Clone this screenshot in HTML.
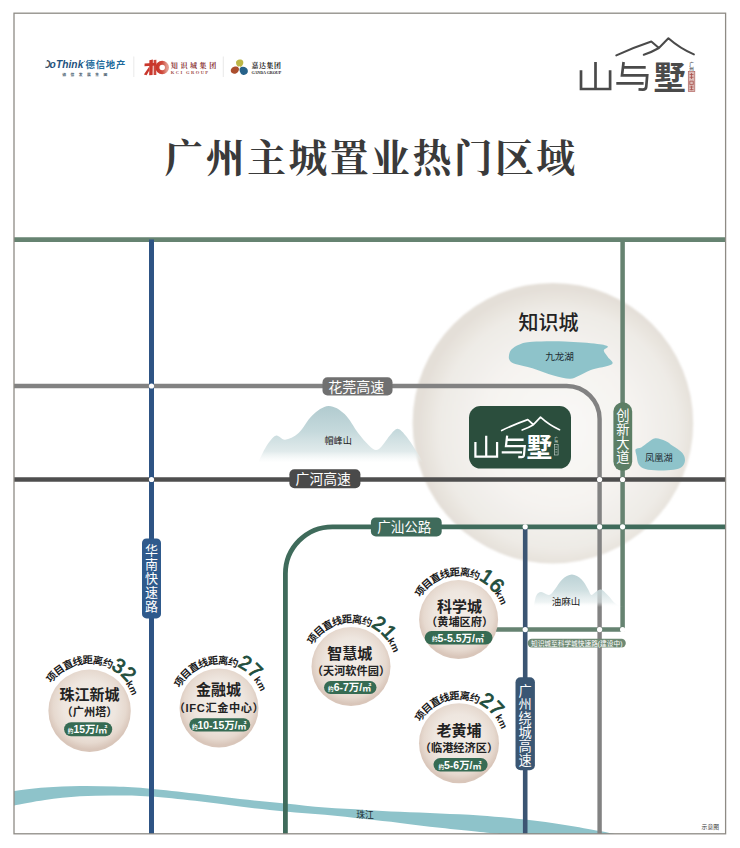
<!DOCTYPE html>
<html><head><meta charset="utf-8"><title>map</title>
<style>html,body{margin:0;padding:0;background:#fff;font-family:"Liberation Sans",sans-serif}svg{display:block}
svg text{font-family:"Liberation Sans","Noto Sans CJK SC",sans-serif}
svg text.sf{font-family:"Liberation Serif","Noto Serif CJK SC",serif}</style>
</head><body>
<svg width="740" height="848" viewBox="0 0 740 848">
<defs>
<radialGradient id="gbig" cx="52%" cy="52%" r="50%"><stop offset="0" stop-color="#faf9f7"/><stop offset="0.55" stop-color="#f5f3f0"/><stop offset="0.85" stop-color="#eeebe6"/><stop offset="1" stop-color="#e4dfd8"/></radialGradient>
<radialGradient id="ginfo" cx="50%" cy="45%" r="52%"><stop offset="0" stop-color="#f3ede7"/><stop offset="0.6" stop-color="#eee6df"/><stop offset="0.85" stop-color="#e6d9cf"/><stop offset="1" stop-color="#d9c6ba"/></radialGradient>
<linearGradient id="gm1" x1="0" y1="0" x2="0" y2="1"><stop offset="0" stop-color="#b1cbcf"/><stop offset="0.45" stop-color="#c5d9dc"/><stop offset="0.8" stop-color="#dde8e9" stop-opacity="0.9"/><stop offset="1" stop-color="#f0f5f5" stop-opacity="0"/></linearGradient>
<linearGradient id="gm2" x1="0" y1="0" x2="0" y2="1"><stop offset="0" stop-color="#b7cfd3" stop-opacity="0.95"/><stop offset="0.5" stop-color="#c9dbdd" stop-opacity="0.85"/><stop offset="0.85" stop-color="#e3eced" stop-opacity="0.6"/><stop offset="1" stop-color="#fff" stop-opacity="0"/></linearGradient>
<linearGradient id="gkci" x1="0" y1="0" x2="1" y2="0"><stop offset="0" stop-color="#c9372c"/><stop offset="0.5" stop-color="#cf4a3c"/><stop offset="1" stop-color="#e29a8e"/></linearGradient>
<filter id="b1" x="-10%" y="-10%" width="120%" height="120%"><feGaussianBlur stdDeviation="0.7"/></filter>
<filter id="b2" x="-10%" y="-10%" width="120%" height="120%"><feGaussianBlur stdDeviation="1.2"/></filter>
</defs>
<rect width="740" height="848" fill="#fff"/>
<path d="M14 791C19.17 790.42 34 788.33 45 787.5C56 786.67 68.33 786.15 80 786C91.67 785.85 103.33 786.15 115 786.6C126.67 787.05 136.67 787.55 150 788.7C163.33 789.85 180 791.78 195 793.5C210 795.22 225 797.35 240 799C255 800.65 270.83 801.97 285 803.4C299.17 804.83 311.67 806.52 325 807.6C338.33 808.68 352.5 809.2 365 809.9C377.5 810.6 387.5 811.22 400 811.8C412.5 812.38 426.67 812.8 440 813.4C453.33 814 465.83 814.37 480 815.4C494.17 816.43 510.83 818 525 819.6C539.17 821.2 552.57 823.1 565 825C577.43 826.9 591.27 829.5 599.6 831C607.93 832.5 612.43 833.5 615 834L500 834C496.67 833.67 490 833.03 480 832C470 830.97 453.33 829.32 440 827.8C426.67 826.28 412.5 824.37 400 822.9C387.5 821.43 377.5 820.35 365 819C352.5 817.65 338.33 816.07 325 814.8C311.67 813.53 299.17 812.77 285 811.4C270.83 810.03 255 808.37 240 806.6C225 804.83 210 802.48 195 800.8C180 799.12 163.33 797.38 150 796.5C136.67 795.62 126.67 795.53 115 795.5C103.33 795.47 91.67 795.55 80 796.3C68.33 797.05 56 798.47 45 800C34 801.53 19.17 804.58 14 805.5Z" fill="#8ec3ca"/>
<circle cx="552.9" cy="423.2" r="140.3" fill="url(#gbig)" filter="url(#b2)"/>
<path d="M14 239.6L725.5 239.6" stroke="#668371" stroke-width="4.6" fill="none"/>
<path d="M622.6 239.6V629.6H495" stroke="#668371" stroke-width="4.5" fill="none" stroke-linejoin="round"/>
<path d="M14 386H566.6A33 33 0 0 1 599.6 419V834" stroke="#828282" stroke-width="4.4" fill="none"/>
<path d="M14 479.5L725.5 479.5" stroke="#4e4e4e" stroke-width="4.6" fill="none"/>
<path d="M725.5 526.8H332.4A47 47 0 0 0 285.4 573.8V834" stroke="#3f6b5b" stroke-width="4.8" fill="none"/>
<path d="M525.2 526.8L525.2 834" stroke="#3b5573" stroke-width="4.6" fill="none"/>
<path d="M151.5 239.6L151.5 834" stroke="#2e5484" stroke-width="5" fill="none"/>
<circle cx="151.5" cy="386" r="2.6" fill="#fff"/>
<circle cx="151.5" cy="479.5" r="2.6" fill="#fff"/>
<circle cx="599.6" cy="479.5" r="2.6" fill="#fff"/>
<circle cx="622.6" cy="479.5" r="2.6" fill="#fff"/>
<circle cx="525.2" cy="526.8" r="2.6" fill="#fff"/>
<circle cx="599.6" cy="526.8" r="2.6" fill="#fff"/>
<circle cx="622.6" cy="526.8" r="2.6" fill="#fff"/>
<circle cx="525.2" cy="629.6" r="2.6" fill="#fff"/>
<circle cx="599.6" cy="629.6" r="2.6" fill="#fff"/>
<circle cx="622.6" cy="629.6" r="2.6" fill="#fff"/>
<path d="M508.9 356.1C509.12 354.22 509.63 351.55 511.4 349.6C513.17 347.65 516 345.7 519.5 344.4C523 343.1 524.83 342.28 532.4 341.8C539.97 341.32 554.08 341.15 564.9 341.5C575.72 341.85 590.15 343.08 597.3 343.9C604.45 344.72 606.72 345.32 607.8 346.4C608.88 347.48 603.8 348.65 603.8 350.4C603.8 352.15 606.45 354.6 607.8 356.9C609.15 359.2 614.73 362.03 611.9 364.2C609.07 366.37 596.48 367.88 590.8 369.9C585.12 371.92 581.32 374.82 577.8 376.3C574.28 377.78 573.75 378.93 569.7 378.8C565.65 378.67 559.72 377.27 553.5 375.5C547.28 373.73 538.62 370.08 532.4 368.2C526.18 366.32 519.92 365.42 516.2 364.2C512.48 362.98 511.32 362.25 510.1 360.9C508.88 359.55 508.68 357.98 508.9 356.1Z" fill="#8ec3ca"/>
<path d="M635.6 449.3C636.35 447.82 639.08 448.58 641.2 447.4C643.32 446.22 645.93 443.72 648.3 442.2C650.67 440.68 652.53 438.52 655.4 438.3C658.27 438.08 662.63 439.67 665.5 440.9C668.37 442.13 669.82 443.72 672.6 445.7C675.38 447.68 680.13 450.35 682.2 452.8C684.27 455.25 685.08 458.03 685 460.4C684.92 462.77 683.6 465.45 681.7 467C679.8 468.55 677.48 469.12 673.6 469.7C669.72 470.28 663.12 470.62 658.4 470.5C653.68 470.38 648.58 470.02 645.3 469C642.02 467.98 640.13 466.52 638.7 464.4C637.27 462.28 637.22 458.82 636.7 456.3C636.18 453.78 634.85 450.78 635.6 449.3Z" fill="#8ec3ca"/>
<text x="545.2" y="360.45" font-size="9.6" fill="#1c2b33">九龙湖</text>
<text x="645.1" y="461.1" font-size="9.2" fill="#1c2b33">凤凰湖</text>
<path d="M258.1 462.7C259.45 460 263.27 451 266.2 446.5C269.13 442 272.55 436.83 275.7 435.7C278.85 434.57 281.28 440.15 285.1 439.7C288.92 439.25 294.08 437.05 298.6 433C303.12 428.95 307.23 419.9 312.2 415.4C317.17 410.9 323 406.23 328.4 406C333.8 405.77 339.65 409.5 344.6 414C349.55 418.5 354.03 427.75 358.1 433C362.17 438.25 366.02 442.67 369 445.5C371.98 448.33 373.83 449.92 376 450C378.17 450.08 379.58 448.53 382 446C384.42 443.47 387.82 437.65 390.5 434.8C393.18 431.95 395.38 428.53 398.1 428.9C400.82 429.27 403.55 432.95 406.8 437C410.05 441.05 414.9 448.92 417.6 453.2C420.3 457.48 422.1 461.12 423 462.7Z" fill="url(#gm1)"/>
<text x="324.4" y="444" font-size="9.2" fill="#222">帽峰山</text>
<path d="M533.8 607C534.2 605.12 534.98 598.18 536.2 595.7C537.42 593.22 538.93 592.23 541.1 592.1C543.27 591.97 546.9 595.38 549.2 594.9C551.5 594.42 552.73 591.77 554.9 589.2C557.07 586.63 559.37 581.93 562.2 579.5C565.03 577.07 568.67 574.6 571.9 574.6C575.13 574.6 578.9 577.07 581.6 579.5C584.3 581.93 586.48 586.63 588.1 589.2C589.72 591.77 589.95 594.5 591.3 594.9C592.65 595.3 594.57 592.5 596.2 591.6C597.83 590.7 599.2 588.95 601.1 589.5C603 590.05 605.17 592.52 607.6 594.9C610.03 597.28 613 601.78 615.7 603.8C618.4 605.82 622.45 606.47 623.8 607Z" fill="url(#gm2)"/>
<text x="551.65" y="604.91" font-size="9.5" fill="#1d1d1d">油麻山</text>
<rect x="322.5" y="377.2" width="70" height="18.2" rx="5" fill="#707070"/>
<text x="328.3" y="391.62" font-size="14" fill="#fff">花莞高速</text>
<rect x="289.4" y="469.2" width="71" height="19" rx="5" fill="#4a4a4a"/>
<text x="295.6" y="483.94" font-size="13.8" fill="#fff">广河高速</text>
<rect x="370.9" y="517.4" width="70.8" height="19" rx="5" fill="#3f6b5b"/>
<text x="377.3" y="532.03" font-size="13.5" fill="#fff">广汕公路</text>
<rect x="142" y="538.4" width="19" height="80" rx="4.5" fill="#2f5a8c"/>
<text x="145" y="555.34" font-size="13" fill="#fff">华</text><text x="145" y="569.34" font-size="13" fill="#fff">南</text><text x="145" y="583.34" font-size="13" fill="#fff">快</text><text x="145" y="597.34" font-size="13" fill="#fff">速</text><text x="145" y="611.34" font-size="13" fill="#fff">路</text>
<rect x="613.4" y="402.2" width="18.8" height="68.8" rx="9.4" fill="#5c7e65"/>
<text x="616.15" y="420.05" font-size="13.3" fill="#fff">创</text><text x="616.15" y="434.05" font-size="13.3" fill="#fff">新</text><text x="616.15" y="448.05" font-size="13.3" fill="#fff">大</text><text x="616.15" y="462.05" font-size="13.3" fill="#fff">道</text>
<rect x="515.5" y="677.3" width="19.4" height="93" rx="5" fill="#3a5673"/>
<text x="518.6" y="695.52" font-size="13.2" fill="#fff">广</text><text x="518.6" y="709.42" font-size="13.2" fill="#fff">州</text><text x="518.6" y="723.32" font-size="13.2" fill="#fff">绕</text><text x="518.6" y="737.22" font-size="13.2" fill="#fff">城</text><text x="518.6" y="751.12" font-size="13.2" fill="#fff">高</text><text x="518.6" y="765.02" font-size="13.2" fill="#fff">速</text>
<rect x="527.6" y="638.8" width="98.2" height="8.6" rx="4.3" fill="#6e8a74"/>
<text x="530.99" y="645.65" font-size="6.7" fill="#fff">知识城至科学城快速路(建设中)</text>
<rect x="469" y="406.1" width="102" height="62.4" rx="11.5" fill="#2b4e3d"/>
<g transform="translate(0 0) scale(1 1)"><path d="M616.3 55.4Q632.5 47.8 651.3 41.5L658.9 48L668.4 38.3Q680 48.5 693.9 54.4M643.8 54.8Q652 52 658.9 48" stroke="#4a4a4a"  fill="none"   stroke-linecap="round" stroke-linejoin="round" stroke-width="2.03"/><path d="M581 70.2V89H610.1V70.2M595.5 62V89" stroke="#4a4a4a" stroke-width="2.7" fill="none" stroke-linecap="butt" stroke-linejoin="miter"/><path d="M623.6 62L622 75.4H647.2L646.2 87Q645.8 89.6 643 89.6L638.5 89.4M623.2 67.3H645.7M616.3 83.4H643.6" stroke="#4a4a4a" stroke-width="2.7" fill="none" stroke-linecap="butt" stroke-linejoin="miter"/></g>
<text x="653.6" y="88.7" font-size="32.3" font-weight="bold" fill="#4a4a4a">墅</text>
<rect x="688.3" y="71.6" width="6.5" height="19.8" fill="#dcbcb8" stroke="#b0625d" stroke-width="0.7"/>
<path d="M689.6 74.5h3.9M689.6 77.3h3.9M691.5 73v6M689.8 81.2h3.5v3.4h-3.5zM689.6 87h3.9M691.5 85.8v4.4M689.6 89.6h3.9" stroke="#a8504c" stroke-width="0.8" fill="none"/>
<text x="689.3" y="65.75" font-size="4.6" font-weight="bold" fill="#5f646c">广</text><text x="689.3" y="70.25" font-size="4.6" font-weight="bold" fill="#5f646c">州</text>
<g transform="translate(42.56 387.28) scale(0.745 0.78)"><path d="M616.3 55.4Q632.5 47.8 651.3 41.5L658.9 48L668.4 38.3Q680 48.5 693.9 54.4M643.8 54.8Q652 52 658.9 48" stroke="#fff"  fill="none"   stroke-linecap="round" stroke-linejoin="round" stroke-width="2.25"/><path d="M581 70.2V89H610.1V70.2M595.5 62V89" stroke="#fff" stroke-width="3" fill="none" stroke-linecap="butt" stroke-linejoin="miter"/><path d="M623.6 62L622 75.4H647.2L646.2 87Q645.8 89.6 643 89.6L638.5 89.4M623.2 67.3H645.7M616.3 83.4H643.6" stroke="#fff" stroke-width="3" fill="none" stroke-linecap="butt" stroke-linejoin="miter"/></g>
<text x="526.5" y="456.5" font-size="25.7" font-weight="bold" fill="#fff">墅</text>
<rect x="554.5" y="444.6" width="3.6" height="10.4" fill="none" stroke="#cfd8d3" stroke-width="0.6"/>
<path d="M555.3 447h2M555.3 449.5h2M555.3 452h2" stroke="#cfd8d3" stroke-width="0.6"/>
<text x="554.6" y="439.69" font-size="3.4" fill="#fff">广</text><text x="554.6" y="443.29" font-size="3.4" fill="#fff">州</text>
<text x="518.5" y="329.8" font-size="20" font-weight="500" fill="#222">知识城</text>
<circle cx="89.6" cy="710.7" r="41.2" fill="url(#ginfo)" filter="url(#b1)"/>
<text x="59.6" y="699.7" font-size="15" font-weight="bold" fill="#222">珠江新城</text>
<text x="61.6" y="715.76" font-size="11.2" font-weight="bold" fill="#222">（广州塔）</text>
<rect x="64.1" y="722.2" width="48.1" height="14" rx="7" fill="#366b53"/>
<text x="67.8" y="732.89" font-size="5.6" font-weight="bold" fill="#fff">约</text>
<text x="73.4" y="733.09" font-size="10.4" font-weight="bold" fill="#fff" textLength="24.9" lengthAdjust="spacingAndGlyphs">15万/</text>
<text x="98.35" y="733.09" font-size="9" font-weight="bold" fill="#fff">㎡</text>
<text transform="translate(51.51 676.78) rotate(-48.31)" x="0" y="3.91" text-anchor="middle" font-size="10.3" font-weight="bold" fill="#1a1a1a">项</text><text transform="translate(59.09 669.83) rotate(-36.74)" x="0" y="3.91" text-anchor="middle" font-size="10.3" font-weight="bold" fill="#1a1a1a">目</text><text transform="translate(67.91 664.54) rotate(-25.17)" x="0" y="3.91" text-anchor="middle" font-size="10.3" font-weight="bold" fill="#1a1a1a">直</text><text transform="translate(77.61 661.13) rotate(-13.6)" x="0" y="3.91" text-anchor="middle" font-size="10.3" font-weight="bold" fill="#1a1a1a">线</text><text transform="translate(87.79 659.73) rotate(-2.03)" x="0" y="3.91" text-anchor="middle" font-size="10.3" font-weight="bold" fill="#1a1a1a">距</text><text transform="translate(98.06 660.41) rotate(9.54)" x="0" y="3.91" text-anchor="middle" font-size="10.3" font-weight="bold" fill="#1a1a1a">离</text><text transform="translate(107.97 663.12) rotate(21.11)" x="0" y="3.91" text-anchor="middle" font-size="10.3" font-weight="bold" fill="#1a1a1a">约</text>
<text transform="translate(119.14 665.38) rotate(33.1)" x="0" y="7.3" text-anchor="middle" font-size="20" fill="#1f4e3d" stroke="#1f4e3d" stroke-width="0.84" stroke-linejoin="round">3</text>
<text transform="translate(129.04 673.67) rotate(46.8)" x="0" y="7.3" text-anchor="middle" font-size="20" fill="#1f4e3d" stroke="#1f4e3d" stroke-width="0.84" stroke-linejoin="round">2</text>
<text transform="translate(130 683.69) rotate(56.23)" x="0" y="3.72" text-anchor="middle" font-size="9.8" font-weight="bold" fill="#1a1a1a">k</text><text transform="translate(133.75 690.38) rotate(65.29)" x="0" y="3.72" text-anchor="middle" font-size="9.8" font-weight="bold" fill="#1a1a1a">m</text>
<circle cx="219" cy="708" r="39.5" fill="url(#ginfo)" filter="url(#b1)"/>
<text x="195.9" y="695.3" font-size="15" font-weight="bold" fill="#222">金融城</text>
<text x="173.8" y="712.16" font-size="11.2" font-weight="bold" fill="#222" letter-spacing="0.6">（IFC汇金中心）</text>
<rect x="189.3" y="718.2" width="61" height="13.3" rx="6.65" fill="#366b53"/>
<text x="191.92" y="728.54" font-size="5.6" font-weight="bold" fill="#fff">约</text>
<text x="197.52" y="728.74" font-size="10.4" font-weight="bold" fill="#fff" textLength="40" lengthAdjust="spacingAndGlyphs">10-15万/</text>
<text x="237.53" y="728.74" font-size="9" font-weight="bold" fill="#fff">㎡</text>
<text transform="translate(179.25 681.45) rotate(-56.26)" x="0" y="3.9" text-anchor="middle" font-size="10.25" font-weight="bold" fill="#1a1a1a">项</text><text transform="translate(185.81 673.6) rotate(-43.97)" x="0" y="3.9" text-anchor="middle" font-size="10.25" font-weight="bold" fill="#1a1a1a">目</text><text transform="translate(193.89 667.32) rotate(-31.68)" x="0" y="3.9" text-anchor="middle" font-size="10.25" font-weight="bold" fill="#1a1a1a">直</text><text transform="translate(203.12 662.91) rotate(-19.4)" x="0" y="3.9" text-anchor="middle" font-size="10.25" font-weight="bold" fill="#1a1a1a">线</text><text transform="translate(213.08 660.57) rotate(-7.11)" x="0" y="3.9" text-anchor="middle" font-size="10.25" font-weight="bold" fill="#1a1a1a">距</text><text transform="translate(223.31 660.39) rotate(5.17)" x="0" y="3.9" text-anchor="middle" font-size="10.25" font-weight="bold" fill="#1a1a1a">离</text><text transform="translate(233.34 662.4) rotate(17.46)" x="0" y="3.9" text-anchor="middle" font-size="10.25" font-weight="bold" fill="#1a1a1a">约</text>
<text transform="translate(245.62 662.63) rotate(30.4)" x="0" y="7.3" text-anchor="middle" font-size="20" fill="#1f4e3d" stroke="#1f4e3d" stroke-width="0.84" stroke-linejoin="round">2</text>
<text transform="translate(255.67 670.29) rotate(44.2)" x="0" y="7.3" text-anchor="middle" font-size="20" fill="#1f4e3d" stroke="#1f4e3d" stroke-width="0.84" stroke-linejoin="round">7</text>
<text transform="translate(258.07 679.61) rotate(54)" x="0" y="3.72" text-anchor="middle" font-size="9.8" font-weight="bold" fill="#1a1a1a">k</text><text transform="translate(262.08 686.16) rotate(63.11)" x="0" y="3.72" text-anchor="middle" font-size="9.8" font-weight="bold" fill="#1a1a1a">m</text>
<circle cx="351" cy="666.6" r="39.5" fill="url(#ginfo)" filter="url(#b1)"/>
<text x="327.2" y="658.8" font-size="15" font-weight="bold" fill="#222">智慧城</text>
<text x="311.8" y="675.26" font-size="11.2" font-weight="bold" fill="#222">（天河软件园）</text>
<rect x="324" y="681" width="52.5" height="12.9" rx="6.45" fill="#366b53"/>
<text x="328.1" y="691.14" font-size="5.6" font-weight="bold" fill="#fff">约</text>
<text x="333.7" y="691.34" font-size="10.4" font-weight="bold" fill="#fff" textLength="28.5" lengthAdjust="spacingAndGlyphs">6-7万/</text>
<text x="362.25" y="691.34" font-size="9" font-weight="bold" fill="#fff">㎡</text>
<text transform="translate(312.3 638.54) rotate(-54.06)" x="0" y="3.9" text-anchor="middle" font-size="10.25" font-weight="bold" fill="#1a1a1a">项</text><text transform="translate(319.16 630.95) rotate(-41.77)" x="0" y="3.9" text-anchor="middle" font-size="10.25" font-weight="bold" fill="#1a1a1a">目</text><text transform="translate(327.47 624.99) rotate(-29.48)" x="0" y="3.9" text-anchor="middle" font-size="10.25" font-weight="bold" fill="#1a1a1a">直</text><text transform="translate(336.87 620.94) rotate(-17.2)" x="0" y="3.9" text-anchor="middle" font-size="10.25" font-weight="bold" fill="#1a1a1a">线</text><text transform="translate(346.91 618.98) rotate(-4.91)" x="0" y="3.9" text-anchor="middle" font-size="10.25" font-weight="bold" fill="#1a1a1a">距</text><text transform="translate(357.14 619.2) rotate(7.37)" x="0" y="3.9" text-anchor="middle" font-size="10.25" font-weight="bold" fill="#1a1a1a">离</text><text transform="translate(367.08 621.59) rotate(19.66)" x="0" y="3.9" text-anchor="middle" font-size="10.25" font-weight="bold" fill="#1a1a1a">约</text>
<text transform="translate(379.29 623.21) rotate(33.1)" x="0" y="7.3" text-anchor="middle" font-size="20" fill="#1f4e3d" stroke="#1f4e3d" stroke-width="0.84" stroke-linejoin="round">2</text>
<text transform="translate(389.31 631.74) rotate(47.7)" x="0" y="7.3" text-anchor="middle" font-size="20" fill="#1f4e3d" stroke="#1f4e3d" stroke-width="0.84" stroke-linejoin="round">1</text>
<text transform="translate(391.78 640.72) rotate(57.6)" x="0" y="3.72" text-anchor="middle" font-size="9.8" font-weight="bold" fill="#1a1a1a">k</text><text transform="translate(395.36 647.5) rotate(66.71)" x="0" y="3.72" text-anchor="middle" font-size="9.8" font-weight="bold" fill="#1a1a1a">m</text>
<circle cx="458.6" cy="619.5" r="39.5" fill="url(#ginfo)" filter="url(#b1)"/>
<text x="437.1" y="611.7" font-size="15" font-weight="bold" fill="#222">科学城</text>
<text x="426" y="625.76" font-size="11.2" font-weight="bold" fill="#222">（黄埔区府）</text>
<rect x="424.7" y="630.9" width="67.8" height="13.5" rx="6.75" fill="#366b53"/>
<text x="432" y="641.34" font-size="5.6" font-weight="bold" fill="#fff">约</text>
<text x="437.6" y="641.54" font-size="10.4" font-weight="bold" fill="#fff" textLength="37.4" lengthAdjust="spacingAndGlyphs">5-5.5万/</text>
<text x="475.05" y="641.54" font-size="9" font-weight="bold" fill="#fff">㎡</text>
<text transform="translate(420.1 591.17) rotate(-53.66)" x="0" y="3.9" text-anchor="middle" font-size="10.25" font-weight="bold" fill="#1a1a1a">项</text><text transform="translate(427.01 583.63) rotate(-41.37)" x="0" y="3.9" text-anchor="middle" font-size="10.25" font-weight="bold" fill="#1a1a1a">目</text><text transform="translate(435.36 577.73) rotate(-29.08)" x="0" y="3.9" text-anchor="middle" font-size="10.25" font-weight="bold" fill="#1a1a1a">直</text><text transform="translate(444.79 573.74) rotate(-16.8)" x="0" y="3.9" text-anchor="middle" font-size="10.25" font-weight="bold" fill="#1a1a1a">线</text><text transform="translate(454.84 571.85) rotate(-4.51)" x="0" y="3.9" text-anchor="middle" font-size="10.25" font-weight="bold" fill="#1a1a1a">距</text><text transform="translate(465.07 572.14) rotate(7.77)" x="0" y="3.9" text-anchor="middle" font-size="10.25" font-weight="bold" fill="#1a1a1a">离</text><text transform="translate(475 574.6) rotate(20.06)" x="0" y="3.9" text-anchor="middle" font-size="10.25" font-weight="bold" fill="#1a1a1a">约</text>
<text transform="translate(487.04 576.21) rotate(33.3)" x="0" y="7.3" text-anchor="middle" font-size="20" fill="#1f4e3d" stroke="#1f4e3d" stroke-width="0.84" stroke-linejoin="round">1</text>
<text transform="translate(497.22 584.97) rotate(48.2)" x="0" y="7.3" text-anchor="middle" font-size="20" fill="#1f4e3d" stroke="#1f4e3d" stroke-width="0.84" stroke-linejoin="round">6</text>
<text transform="translate(499.2 593.33) rotate(57.2)" x="0" y="3.72" text-anchor="middle" font-size="9.8" font-weight="bold" fill="#1a1a1a">k</text><text transform="translate(502.83 600.09) rotate(66.31)" x="0" y="3.72" text-anchor="middle" font-size="9.8" font-weight="bold" fill="#1a1a1a">m</text>
<circle cx="459" cy="743.3" r="40" fill="url(#ginfo)" filter="url(#b1)"/>
<text x="436.5" y="736.2" font-size="15" font-weight="bold" fill="#222">老黄埔</text>
<text x="419.8" y="751.86" font-size="11.2" font-weight="bold" fill="#222">（临港经济区）</text>
<rect x="433.5" y="758.1" width="54.1" height="13.5" rx="6.75" fill="#366b53"/>
<text x="438.4" y="768.54" font-size="5.6" font-weight="bold" fill="#fff">约</text>
<text x="444" y="768.74" font-size="10.4" font-weight="bold" fill="#fff" textLength="28.5" lengthAdjust="spacingAndGlyphs">5-6万/</text>
<text x="472.55" y="768.74" font-size="9" font-weight="bold" fill="#fff">㎡</text>
<text transform="translate(420.11 715.51) rotate(-54.46)" x="0" y="3.9" text-anchor="middle" font-size="10.25" font-weight="bold" fill="#1a1a1a">项</text><text transform="translate(426.91 707.87) rotate(-42.17)" x="0" y="3.9" text-anchor="middle" font-size="10.25" font-weight="bold" fill="#1a1a1a">目</text><text transform="translate(435.18 701.86) rotate(-29.88)" x="0" y="3.9" text-anchor="middle" font-size="10.25" font-weight="bold" fill="#1a1a1a">直</text><text transform="translate(444.55 697.74) rotate(-17.6)" x="0" y="3.9" text-anchor="middle" font-size="10.25" font-weight="bold" fill="#1a1a1a">线</text><text transform="translate(454.57 695.71) rotate(-5.31)" x="0" y="3.9" text-anchor="middle" font-size="10.25" font-weight="bold" fill="#1a1a1a">距</text><text transform="translate(464.8 695.85) rotate(6.97)" x="0" y="3.9" text-anchor="middle" font-size="10.25" font-weight="bold" fill="#1a1a1a">离</text><text transform="translate(474.77 698.18) rotate(19.26)" x="0" y="3.9" text-anchor="middle" font-size="10.25" font-weight="bold" fill="#1a1a1a">约</text>
<text transform="translate(487.44 700.01) rotate(33.3)" x="0" y="7.3" text-anchor="middle" font-size="20" fill="#1f4e3d" stroke="#1f4e3d" stroke-width="0.84" stroke-linejoin="round">2</text>
<text transform="translate(497.01 708.1) rotate(47.2)" x="0" y="7.3" text-anchor="middle" font-size="20" fill="#1f4e3d" stroke="#1f4e3d" stroke-width="0.84" stroke-linejoin="round">7</text>
<text transform="translate(499.64 717.2) rotate(57.3)" x="0" y="3.72" text-anchor="middle" font-size="9.8" font-weight="bold" fill="#1a1a1a">k</text><text transform="translate(503.26 723.97) rotate(66.41)" x="0" y="3.72" text-anchor="middle" font-size="9.8" font-weight="bold" fill="#1a1a1a">m</text>
<text class="sf" x="164.6" y="172.4" font-size="38.8" font-weight="bold" letter-spacing="2.5" fill="#3a3a3a">广州主城置业热门区域</text>
<rect x="14" y="13.2" width="711.6" height="820.6" fill="none" stroke="#8e8b85" stroke-width="1.3"/>
<text x="701.6" y="828.7" font-size="5.8" fill="#333">示意图</text>
<text x="356.3" y="817.74" font-size="8.8" fill="#1c2b33">珠江</text>
<text x="43.2" y="67.6" font-size="10.2" font-weight="bold" font-style="italic" fill="#474c55">D</text>
<path d="M42.5 59.5H47L45.2 68.5H42.5Z" fill="#fff"/>
<text x="49.6" y="67.6" font-size="10.2" font-weight="bold" font-style="italic" letter-spacing="0.07" fill="#1d527d">oThink</text>
<circle cx="84.3" cy="61.2" r="0.55" fill="#1f5b87"/>
<text x="85.6" y="67.7" font-size="9.4" font-weight="bold" letter-spacing="0.73" fill="#1d6a9c">德信地产</text>
<text x="62.2" y="76" font-size="3.8" font-weight="bold" letter-spacing="4.46" fill="#465c6e">德信发展集团</text>
<path d="M133.8 56.5V77" stroke="#e3e3e3" stroke-width="0.8"/>
<path d="M223.3 56.5V77" stroke="#e3e3e3" stroke-width="0.8"/>
<g fill="#c9372c"><path d="M149.4 60.2L152.9 59.6L152.6 75L149.2 75.2Z"/><path d="M144.6 63.4L156.4 62.8L156.3 65.6L144.5 66.2Z"/><path d="M149.3 66.6L149.3 70.5L146.6 75.2L143.9 74.6Z"/><path d="M153.6 60L156.4 59.7L156.3 75L153.6 75.1Z" opacity="0.92"/></g>
<circle cx="162.2" cy="67.6" r="4.75" fill="none" stroke="url(#gkci)" stroke-width="4"/>
<text class="sf" x="170.8" y="67.9" font-size="7" font-weight="bold" letter-spacing="2.6" fill="#8b3537">知识城集团</text>
<text class="sf" x="170.8" y="73.8" font-size="4.6" font-weight="bold" letter-spacing="1.37" fill="#a04c4a">KCI GROUP</text>
<path d="M239.6 59.6C242.6 59.4 244 61.6 243 64.2C242.2 66.2 240.6 67 239.4 67.2C237.6 66.6 236 65 236 62.6C236 60.8 237.6 59.8 239.6 59.6Z" fill="#bcb646"/>
<path d="M238.8 67.4C239.4 69.6 238.6 72 236.4 73.2C234.2 74.4 231.6 73.6 230.9 71.6C230.3 69.6 231.6 67.6 234 66.8C235.8 66.2 237.6 66.4 238.8 67.4Z" fill="#ab4e2e"/>
<path d="M240 67.6C241.8 66.4 244.6 66.6 246.4 68C248.2 69.6 248.4 72.2 246.8 73.8C245 75.4 242.2 75.2 240.8 73.4C239.4 71.6 239.2 69.2 240 67.6Z" fill="#27628a"/>
<circle cx="239.4" cy="67.3" r="1.1" fill="#fff"/>
<text class="sf" x="251.4" y="68.3" font-size="6.9" font-weight="bold" letter-spacing="0.67" fill="#1e1e1e">嘉达集团</text>
<text class="sf" x="251.4" y="73.9" font-size="4.1" font-weight="bold" letter-spacing="-0.08" fill="#1e1e1e">GANDA GROUP</text>
</svg>
</body></html>
